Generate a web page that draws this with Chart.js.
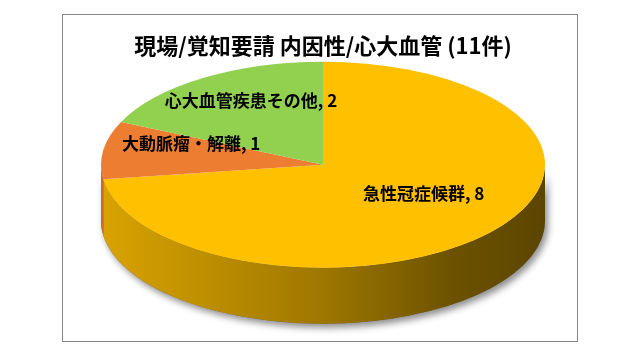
<!DOCTYPE html>
<html>
<head>
<meta charset="utf-8">
<script src="https://cdn.jsdelivr.net/npm/chart.js@4/dist/chart.umd.min.js"></script>
<style>
  html, body { margin: 0; padding: 0; background: #fff; }
  #frame {
    position: absolute;
    left: 62px;
    top: 14px;
    width: 514px;
    height: 326px;
    border: 1px solid #878787;
  }
</style>
</head>
<body>
<div id="frame">
  <canvas id="pieChart" width="514" height="326"></canvas>
</div>
<script>
const chartTitle = "現場/覚知要請 内因性/心大血管 (11件)";
const categories = ["急性冠症候群", "大動脈瘤・解離", "心大血管疾患その他"];
const counts = [8, 1, 2];
const sliceColors = ["#FFC000", "#ED7D31", "#92D050"];

const JP_FONT = "'Noto Sans CJK JP', 'Noto Sans', sans-serif";

// darken a #rrggbb colour by factor f
function shade(hex, f) {
  const n = parseInt(hex.slice(1), 16);
  const r = Math.round(((n >> 16) & 255) * f);
  const g = Math.round(((n >> 8) & 255) * f);
  const b = Math.round((n & 255) * f);
  return `rgb(${r},${g},${b})`;
}

// squashes the pie into an ellipse and draws the front wall under it
const pie3d = {
  id: "pie3d",
  beforeDatasetDraw(chart, args, opts) {
    const ctx = chart.ctx;
    const arcs = args.meta.data;
    const cx = arcs[0].x;
    const cy = arcs[0].y;
    const r = arcs[0].outerRadius;
    const ry = r * opts.tilt;
    const d = opts.depth;

    const wall = (a0, a1) => {
      ctx.beginPath();
      ctx.ellipse(cx, cy, r, ry, 0, a0, a1);
      ctx.ellipse(cx, cy + d, r, ry, 0, a1, a0, true);
      ctx.closePath();
    };

    // soft shadow under the whole wall
    ctx.save();
    ctx.shadowColor = "rgba(0,0,0,0.45)";
    ctx.shadowBlur = 7;
    ctx.shadowOffsetX = 3;
    ctx.shadowOffsetY = 4;
    wall(0, Math.PI);
    ctx.fillStyle = "#666";
    ctx.fill();
    ctx.restore();

    ctx.save();
    arcs.forEach(arc => {
      const base = arc.options.backgroundColor;
      const grad = ctx.createLinearGradient(cx - r, 0, cx + r, 0);
      grad.addColorStop(0, shade(base, 0.85));
      grad.addColorStop(0.5, shade(base, 0.62));
      grad.addColorStop(0.8, shade(base, 0.42));
      grad.addColorStop(1, shade(base, 0.36));
      [-2 * Math.PI, 0, 2 * Math.PI].forEach(k => {
        const lo = Math.max(arc.startAngle, k);
        const hi = Math.min(arc.endAngle, k + Math.PI);
        if (hi > lo) {
          wall(lo - k, hi - k);
          ctx.fillStyle = grad;
          ctx.fill();
        }
      });
    });
    ctx.restore();

    ctx.save();
    ctx.translate(cx, cy);
    ctx.scale(1, opts.tilt);
    ctx.translate(-cx, -cy);
  },
  afterDatasetDraw(chart) {
    chart.ctx.restore();
  },
  afterDatasetsDraw(chart, args, opts) {
    const ctx = chart.ctx;
    const meta = chart.getDatasetMeta(0);
    const labels = chart.data.labels;
    const values = chart.data.datasets[0].data;

    ctx.save();
    ctx.font = `bold 17px ${JP_FONT}`;
    ctx.fillStyle = "#000";
    ctx.textAlign = "center";
    ctx.textBaseline = "middle";
    meta.data.forEach((arc, i) => {
      const mid = (arc.startAngle + arc.endAngle) / 2;
      const rr = arc.outerRadius * opts.labelRadius;
      const x = arc.x + Math.cos(mid) * rr;
      const y = arc.y + Math.sin(mid) * rr * opts.tilt + opts.labelShift;
      ctx.fillText(`${labels[i]}, ${values[i]}`, x, y);
    });
    ctx.restore();
  }
};

new Chart(document.getElementById("pieChart"), {
  type: "pie",
  data: {
    labels: categories,
    datasets: [{
      data: counts,
      backgroundColor: sliceColors,
      borderWidth: 0,
      radius: 222,
      clip: false
    }]
  },
  options: {
    responsive: false,
    animation: false,
    events: [],
    layout: {
      padding: { left: 6, right: 0, top: 0, bottom: 78 }
    },
    plugins: {
      legend: { display: false },
      tooltip: { enabled: false },
      title: {
        display: true,
        text: chartTitle,
        color: "#000",
        font: { family: JP_FONT, size: 22, weight: "bold" },
        padding: { top: 17, bottom: 8 }
      },
      pie3d: {
        tilt: 0.464,
        depth: 56,
        labelRadius: 0.6,
        labelShift: -12
      }
    }
  },
  plugins: [pie3d]
});
</script>
</body>
</html>
